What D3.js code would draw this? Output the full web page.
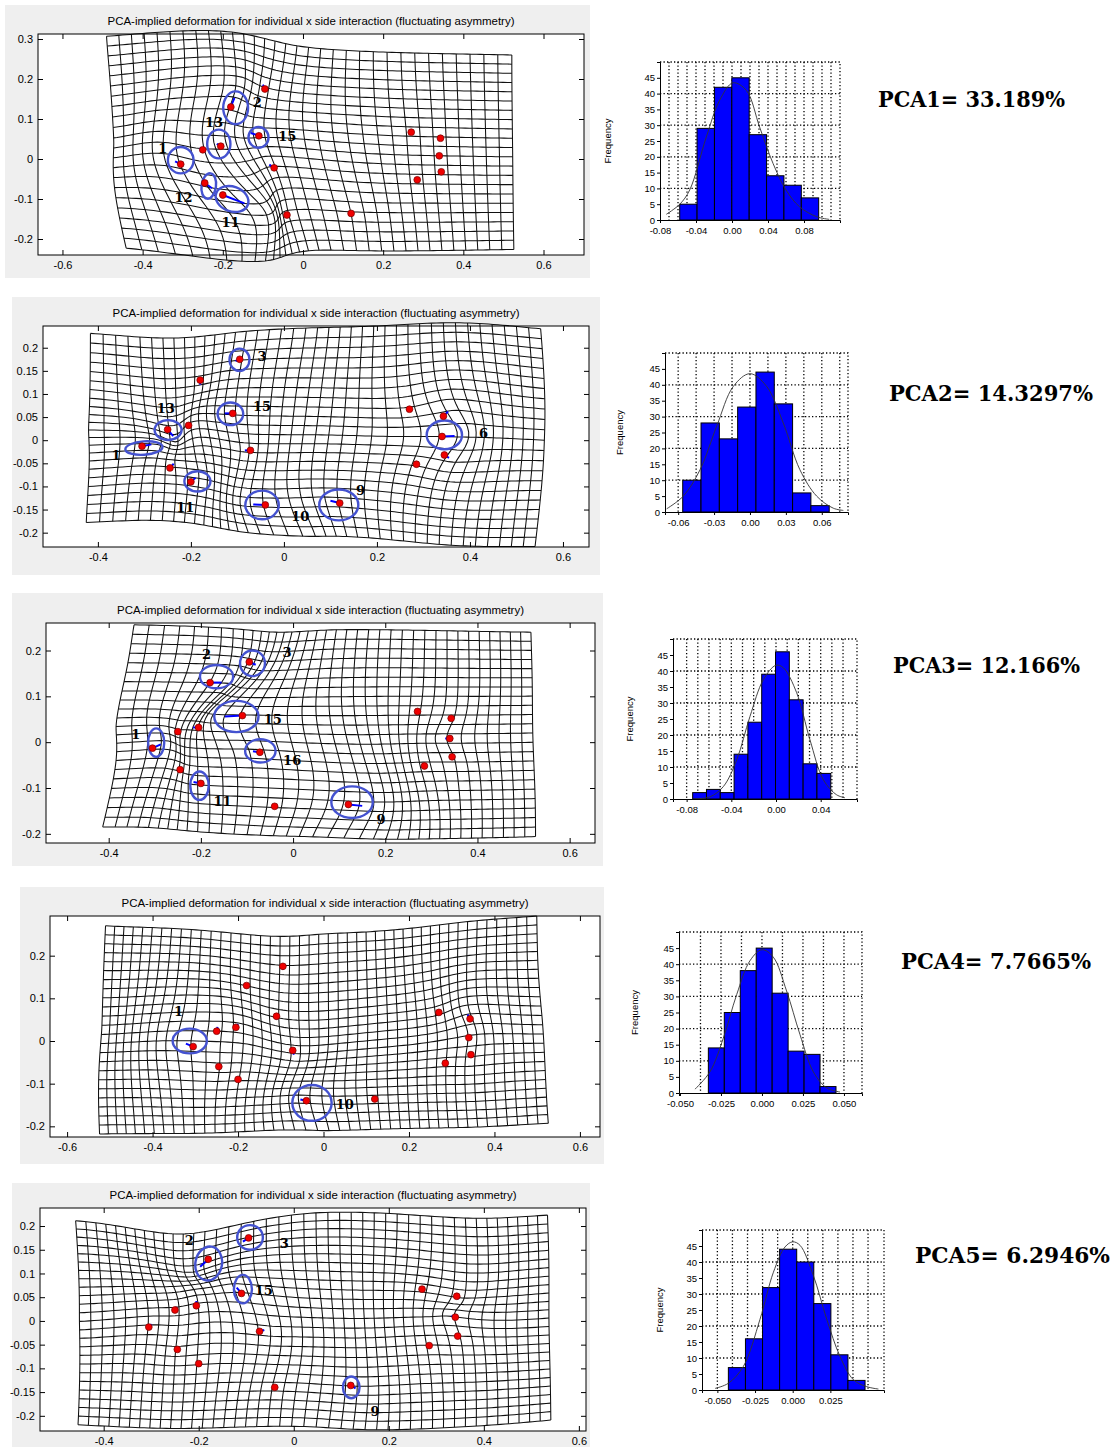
<!DOCTYPE html>
<html><head><meta charset="utf-8">
<script src="https://cdn.jsdelivr.net/npm/d3@7"></script>
<style>
body{margin:0;background:#fff;}
svg text{font-family:"Liberation Sans",Arial,sans-serif;fill:#000;}
</style></head>
<body><svg id="chart" width="1119" height="1447"></svg>
<script>
// mean landmark configuration: [id, x, y]
const landmarks = [
  [1,-0.305,-0.013],[2,-0.18,0.13],[3,-0.095,0.175],[4,0.27,0.067],
  [5,0.343,0.052],[6,0.34,0.008],[7,0.345,-0.032],[8,0.285,-0.052],
  [9,0.12,-0.136],[10,-0.04,-0.14],[11,-0.2,-0.09],[12,-0.245,-0.06],
  [13,-0.25,0.023],[14,-0.205,0.032],[15,-0.11,0.058],[16,-0.072,-0.022]
];

// deformation panels
const gridXDomains = [[-0.661,0.701],[-0.518,0.656],[-0.536,0.655],[-0.64,0.647],[-0.534,0.615]];
const gridYDomains = [[-0.24,0.3125],[-0.231,0.247],[-0.22,0.26],[-0.225,0.293],[-0.232,0.238]];
const gridXTicks = [
  [-0.6,-0.4,-0.2,0,0.2,0.4,0.6],[-0.4,-0.2,0,0.2,0.4,0.6],[-0.4,-0.2,0,0.2,0.4,0.6],
  [-0.6,-0.4,-0.2,0,0.2,0.4,0.6],[-0.4,-0.2,0,0.2,0.4,0.6]
];
const gridYTicks = [
  [-0.2,-0.1,0,0.1,0.2,0.3],
  [-0.2,-0.15,-0.1,-0.05,0,0.05,0.1,0.15,0.2],
  [-0.2,-0.1,0,0.1,0.2],
  [-0.2,-0.1,0,0.1,0.2],
  [-0.2,-0.15,-0.1,-0.05,0,0.05,0.1,0.15,0.2]
];
// warped grid outline: TL, TC, TR, MR, BR, BC, BL, ML
const gridOutlines = [
  [[-0.49,0.307],[-0.015,0.283],[0.521,0.26],[0.523,0.017],[0.526,-0.226],[0.04,-0.228],[-0.441,-0.223],[-0.472,0.04]],
  [[-0.416,0.231],[0.06,0.243],[0.552,0.241],[0.56,0.0],[0.54,-0.23],[0.055,-0.208],[-0.425,-0.178],[-0.42,0.022]],
  [[-0.345,0.256],[0.083,0.245],[0.516,0.24],[0.52,0.02],[0.526,-0.206],[0.058,-0.207],[-0.413,-0.185],[-0.384,0.034]],
  [[-0.51,0.27],[0,0.251],[0.499,0.293],[0.512,0.049],[0.526,-0.193],[0,-0.21],[-0.524,-0.218],[-0.519,0.026]],
  [[-0.459,0.211],[0.034,0.227],[0.534,0.223],[0.537,0.006],[0.541,-0.209],[0.034,-0.223],[-0.454,-0.219],[-0.451,-0.001]]
];
const gridCounts = [[32,21],[39,22],[37,22],[45,23],[43,24]];
// landmark displacement vectors: [id, dx, dy]
const landmarkShifts = [
  [[3,-0.005,0.011],[2,0.009,0.023],[15,-0.02,0.007],[14,-0.01,0.006],[13,-0.008,0.004],[1,-0.014,0.007],[16,-0.012,0.008],[12,0.018,-0.013],[11,0.054,-0.021]],
  [[3,-0.009,-0.004],[15,-0.017,0],[13,0.012,-0.014],[1,0.02,0.004],[11,0.01,0.009],[10,-0.026,0.001],[9,-0.02,0.005],[6,0.027,0.001],[5,0.01,0.01],[7,0.01,-0.006],[16,-0.012,0],[12,0.008,0.009],[2,0,-0.01]],
  [[3,0.014,-0.006],[2,0.025,0],[15,-0.038,-0.002],[1,0.018,0.008],[16,-0.015,0.002],[11,-0.016,0.003],[9,0.03,-0.003],[6,-0.01,0],[14,-0.012,0],[12,0,0.006]],
  [[1,-0.017,0.007],[10,-0.014,0.003],[3,0,-0.008],[15,0,-0.008],[16,0.003,-0.01],[13,0.002,0.01],[14,0.005,0.008],[5,-0.006,0.01],[6,0.004,0.006]],
  [[3,-0.012,-0.008],[2,-0.017,-0.016],[15,-0.01,0.012],[9,0.01,-0.006],[1,0.006,0.006],[13,0.004,0.006],[14,0,0.01],[16,0.01,0.003],[6,-0.008,0.003],[5,0.004,-0.006]]
];
// highlighted landmarks: [cx, cy, rx, ry, angle]
const ellipses = [
  [[-0.168,0.128,0.031,0.041,0],[-0.21,0.0375,0.029,0.036,0],[-0.111,0.054,0.025,0.026,0],[-0.305,-0.003,0.032,0.033,0],[-0.235,-0.0675,0.018,0.032,8],[-0.177,-0.1,0.042,0.031,20]],
  [[-0.0955,0.174,0.0215,0.024,0],[-0.115,0.057,0.0275,0.0245,0],[-0.249,0.022,0.029,0.0215,0],[-0.301,-0.017,0.04,0.0145,-4],[-0.186,-0.089,0.028,0.022,0],[-0.047,-0.14,0.036,0.031,0],[0.118,-0.14,0.042,0.0335,0],[0.345,0.0115,0.038,0.031,0]],
  [[-0.088,0.172,0.027,0.028,0],[-0.166,0.143,0.036,0.0255,0],[-0.123,0.056,0.048,0.034,0],[-0.297,-0.001,0.0175,0.031,0],[-0.071,-0.019,0.033,0.0255,0],[-0.203,-0.095,0.02,0.031,0],[0.128,-0.131,0.045,0.0345,0]],
  [[-0.313,0,0.04,0.029,0],[-0.027,-0.145,0.046,0.042,0]],
  [[-0.092,0.176,0.027,0.026,0],[-0.179,0.121,0.028,0.036,10],[-0.107,0.067,0.019,0.03,0],[0.121,-0.14,0.0175,0.023,0]]
];
const numberLabels = [
  [["1",-0.35,0.027],["2",-0.114,0.141],["13",-0.222,0.092],["15",-0.039,0.057],["12",-0.298,-0.096],["11",-0.181,-0.159]],
  [["3",-0.047,0.181],["15",-0.047,0.074],["13",-0.254,0.068],["1",-0.361,-0.032],["11",-0.212,-0.145],["10",0.035,-0.165],["9",0.165,-0.109],["6",0.429,0.015]],
  [["2",-0.188,0.191],["3",-0.013,0.196],["15",-0.044,0.049],["1",-0.341,0.0175],["16",-0.002,-0.04],["11",-0.153,-0.129],["9",0.191,-0.168]],
  [["1",-0.339,0.069],["10",0.05,-0.148]],
  [["2",-0.22,0.169],["3",-0.02,0.164],["15",-0.063,0.065],["9",0.171,-0.191]]
];
const panelTitle = "PCA-implied deformation for individual x side interaction (fluctuating asymmetry)";

// histograms of PC scores
const histXDomains = [[-0.08,0.12],[-0.071,0.0819],[-0.0922,0.0725],[-0.0506,0.061],[-0.0602,0.0606]];
const histXTicks = [
  [-0.08,-0.04,0,0.04,0.08],[-0.06,-0.03,0,0.03,0.06],[-0.08,-0.04,0,0.04],
  [-0.05,-0.025,0,0.025,0.05],[-0.05,-0.025,0,0.025]
];
const histTickDigits = [2,2,2,3,3];
const histGridSteps = [0.01,0.015,0.01,0.0125,0.01];
const histYTicks = [0,5,10,15,20,25,30,35,40,45];
const histBinStarts = [-0.0581,-0.0562,-0.0746,-0.0327,-0.0427];
const histBinWidths = [0.0193,0.0153,0.01236,0.00973,0.01134];
const histCounts = [
  [5,29,42,45,27,14,11,7],
  [10,28,23,33,44,34,6,2],
  [2,3,2,14,24,39,46,31,11,8],
  [14,25,38,45,31,13,12,2],
  [7,16,32,44,40,27,11,3]
];
const histCurves = [
  [[-0.073,1.8],[-0.058,5],[-0.047,9.5],[-0.0285,26.3],[-0.0137,37.9],[0.001,43.4],[0.016,41],[0.0307,29.4],[0.0456,17.9],[0.06,9.5],[0.075,4.2],[0.094,1.05],[0.108,0.2]],
  [[-0.0696,1],[-0.0557,5],[-0.0417,13.3],[-0.0278,27],[-0.0139,39.5],[0,43.5],[0.0139,39.5],[0.0278,28],[0.0417,13.3],[0.0557,5],[0.0696,1.2],[0.078,0.5]],
  [[-0.074,0],[-0.059,0.7],[-0.0471,3.9],[-0.0352,12.2],[-0.0233,25.8],[-0.0113,37.3],[0,41.8],[0.0066,41],[0.0185,33.2],[0.0304,18.5],[0.0424,6],[0.0543,1.3],[0.0617,0.4]],
  [[-0.0409,1.15],[-0.0317,6.6],[-0.0236,17],[-0.0154,30.6],[-0.0073,41.1],[0,44.5],[0.0069,42.2],[0.015,31.7],[0.0232,18.1],[0.0313,6.6],[0.0394,1.6],[0.0476,0.3]],
  [[-0.0515,0.5],[-0.0427,2.1],[-0.0327,7.4],[-0.0217,22.1],[-0.0128,36.8],[-0.0051,44.7],[0,46.3],[0.0049,45.2],[0.0137,35.8],[0.0226,22.1],[0.0314,10.5],[0.0403,3.2],[0.0491,1.05],[0.0569,0.3]]
];
const pcaLabels = ["PCA1= 33.189%","PCA2= 14.3297%","PCA3= 12.166%","PCA4= 7.7665%","PCA5= 6.2946%"];

// layout (pixels)
const gridFrames = [[5,5,590,278],[12,297,600,575],[12,593,603,866],[20,887,604,1164],[12,1183,590,1447]];
const gridBoxes = [[38,34,584,255],[43,326,589,547],[46,623,595,843],[50,916,600,1137],[40,1208,586,1431]];
const histBoxes = [[660,62,840,220],[665,353,848,512],[673,639,857,799],[679,932,862,1093],[702,1230,884,1390]];
const histLabelGap = [52,45,43,44,42];
const pcaPos = [[878,107],[889,401],[893,673],[901,969],[915,1263]];
const pcaWidths = [187,204,187,190,195];

const svg = d3.select("#chart");
const fmtGrid = v => String(+v.toFixed(2));

// 8-node quad mapping of the grid outline
const nodeXi = [-1,0,1,1,1,0,-1,-1], nodeEta = [1,1,1,0,-1,-1,-1,0];
function shapeW(k, xi, eta) {
  const a = nodeXi[k], b = nodeEta[k];
  if (a !== 0 && b !== 0) return 0.25*(1+xi*a)*(1+eta*b)*(xi*a+eta*b-1);
  if (a === 0) return 0.5*(1-xi*xi)*(1+eta*b);
  return 0.5*(1+xi*a)*(1-eta*eta);
}
function quadMap(outline, xi, eta) {
  let px = 0, py = 0;
  outline.forEach((pt, k) => { const w = shapeW(k, xi, eta); px += w*pt[0]; py += w*pt[1]; });
  return [px, py];
}

// thin plate spline through the landmark shifts
function solve(A, b) {
  const n = b.length, M = A.map((r, i) => [...r, b[i]]);
  for (let c = 0; c < n; c++) {
    let piv = c;
    for (let r = c+1; r < n; r++) if (Math.abs(M[r][c]) > Math.abs(M[piv][c])) piv = r;
    [M[c], M[piv]] = [M[piv], M[c]];
    for (let r = c+1; r < n; r++) {
      const f = M[r][c] / M[c][c];
      for (let k = c; k <= n; k++) M[r][k] -= f*M[c][k];
    }
  }
  const x = new Array(n).fill(0);
  for (let r = n-1; r >= 0; r--) {
    let s = M[r][n];
    for (let k = r+1; k < n; k++) s -= M[r][k]*x[k];
    x[r] = s / M[r][r];
  }
  return x;
}
const U = (dx, dy) => { const r2 = dx*dx + dy*dy; return r2 > 0 ? r2*Math.log(r2) : 0; };
function fitTps(ctrl) {
  const n = ctrl.length, m = n + 3;
  const A = Array.from({length: m}, () => new Array(m).fill(0));
  for (let i = 0; i < n; i++) {
    for (let j = 0; j < n; j++) A[i][j] = U(ctrl[i][0]-ctrl[j][0], ctrl[i][1]-ctrl[j][1]);
    A[i][n] = 1; A[i][n+1] = ctrl[i][0]; A[i][n+2] = ctrl[i][1];
    A[n][i] = 1; A[n+1][i] = ctrl[i][0]; A[n+2][i] = ctrl[i][1];
  }
  const wx = solve(A, [...ctrl.map(c => c[2]), 0, 0, 0]);
  const wy = solve(A, [...ctrl.map(c => c[3]), 0, 0, 0]);
  return (px, py) => {
    let dx = wx[n] + wx[n+1]*px + wx[n+2]*py, dy = wy[n] + wy[n+1]*px + wy[n+2]*py;
    for (let i = 0; i < n; i++) {
      const u = U(px-ctrl[i][0], py-ctrl[i][1]);
      dx += wx[i]*u; dy += wy[i]*u;
    }
    return [px+dx, py+dy];
  };
}

const warpGain = 1.7;

gridOutlines.forEach((outline, p) => {
  const [fx0, fy0, fx1, fy1] = gridFrames[p];
  const [bx0, by0, bx1, by1] = gridBoxes[p];
  const g = svg.append("g");
  g.append("rect").attr("x", fx0).attr("y", fy0).attr("width", fx1-fx0).attr("height", fy1-fy0).attr("fill", "#efefef");
  g.append("rect").attr("x", bx0).attr("y", by0).attr("width", bx1-bx0).attr("height", by1-by0).attr("fill", "#fff");

  const x = d3.scaleLinear().domain(gridXDomains[p]).range([bx0, bx1]);
  const y = d3.scaleLinear().domain(gridYDomains[p]).range([by1, by0]);

  g.append("text").attr("x", (bx0+bx1)/2).attr("y", by0-9).attr("text-anchor", "middle")
    .attr("font-size", 11).attr("textLength", 407).attr("lengthAdjust", "spacingAndGlyphs")
    .text(panelTitle);

  // warp: shifts at landmarks, outline kept fixed
  const shiftMap = new Map(landmarkShifts[p].map(d => [d[0], d]));
  const ctrl = landmarks.map(([id, lx, ly]) => {
    const s = shiftMap.get(id);
    return [lx, ly, s ? s[1]*warpGain : 0, s ? s[2]*warpGain : 0];
  });
  outline.forEach(pt => ctrl.push([pt[0], pt[1], 0, 0]));
  const warp = fitTps(ctrl);

  const [nx, ny] = gridCounts[p];
  const line = d3.line().x(d => x(d[0])).y(d => y(d[1]));
  const lines = [];
  for (let i = 0; i <= nx; i++) {
    const xi = -1 + 2*i/nx, pts = [];
    for (let s = 0; s <= 60; s++) { const q = quadMap(outline, xi, 1 - 2*s/60); pts.push(warp(q[0], q[1])); }
    lines.push(pts);
  }
  for (let j = 0; j <= ny; j++) {
    const eta = 1 - 2*j/ny, pts = [];
    for (let s = 0; s <= 100; s++) { const q = quadMap(outline, -1 + 2*s/100, eta); pts.push(warp(q[0], q[1])); }
    lines.push(pts);
  }
  g.append("g").selectAll("path").data(lines).join("path")
    .attr("d", line).attr("fill", "none").attr("stroke", "#111").attr("stroke-width", 1.05);

  // axes, MATLAB style inward ticks on all sides
  const axB = g.append("g").attr("transform", `translate(0,${by1})`)
    .call(d3.axisBottom(x).tickValues(gridXTicks[p]).tickSize(-5).tickPadding(6).tickFormat(fmtGrid));
  const axL = g.append("g").attr("transform", `translate(${bx0},0)`)
    .call(d3.axisLeft(y).tickValues(gridYTicks[p]).tickSize(-5).tickPadding(5).tickFormat(fmtGrid));
  const axT = g.append("g").attr("transform", `translate(0,${by0})`)
    .call(d3.axisTop(x).tickValues(gridXTicks[p]).tickSize(-5).tickFormat(""));
  const axR = g.append("g").attr("transform", `translate(${bx1},0)`)
    .call(d3.axisRight(y).tickValues(gridYTicks[p]).tickSize(-5).tickFormat(""));
  [axB, axL, axT, axR].forEach(a => {
    a.select(".domain").remove();
    a.selectAll("text").attr("font-size", 11).attr("font-family", "Liberation Sans, Arial, sans-serif");
  });
  g.append("rect").attr("x", bx0).attr("y", by0).attr("width", bx1-bx0).attr("height", by1-by0)
    .attr("fill", "none").attr("stroke", "#000");

  // ellipses around highlighted landmarks
  const kx = Math.abs(x(1) - x(0)), ky = Math.abs(y(1) - y(0));
  g.append("g").selectAll("ellipse").data(ellipses[p]).join("ellipse")
    .attr("cx", d => x(d[0])).attr("cy", d => y(d[1]))
    .attr("rx", d => d[2]*kx).attr("ry", d => d[3]*ky)
    .attr("transform", d => `rotate(${d[4]},${x(d[0])},${y(d[1])})`)
    .attr("fill", "none").attr("stroke", "#4452d0").attr("stroke-width", 2.4);

  // displacement vectors and landmarks
  const lmById = new Map(landmarks.map(d => [d[0], d]));
  g.append("g").selectAll("line").data(landmarkShifts[p]).join("line")
    .attr("x1", d => x(lmById.get(d[0])[1])).attr("y1", d => y(lmById.get(d[0])[2]))
    .attr("x2", d => x(lmById.get(d[0])[1] + d[1])).attr("y2", d => y(lmById.get(d[0])[2] + d[2]))
    .attr("stroke", "#0000ff").attr("stroke-width", 2);
  g.append("g").selectAll("circle").data(landmarks).join("circle")
    .attr("cx", d => x(d[1])).attr("cy", d => y(d[2])).attr("r", 3.4)
    .attr("fill", "#f00000").attr("stroke", "#700").attr("stroke-width", 0.7);

  g.append("g").selectAll("text").data(numberLabels[p]).join("text")
    .attr("x", d => x(d[1])).attr("y", d => y(d[2])).attr("dy", "0.35em")
    .attr("text-anchor", "middle").style("font-family", "DejaVu Serif, serif")
    .attr("font-weight", "bold").attr("font-size", 13)
    .text(d => d[0]);
});

// histograms
histCounts.forEach((counts, h) => {
  const [x0, y0, x1, y1] = histBoxes[h];
  const g = svg.append("g");
  const x = d3.scaleLinear().domain(histXDomains[h]).range([x0, x1]);
  const y = d3.scaleLinear().domain([0, 50]).range([y1, y0]);
  const dots = "1.3,2.2";

  const step = histGridSteps[h];
  const vs = d3.range(Math.ceil(histXDomains[h][0]/step - 1e-6), Math.floor(histXDomains[h][1]/step + 1e-6) + 1)
    .map(k => k*step).filter(v => x(v) > x0 + 3 && x(v) < x1 - 3);
  g.append("g").selectAll("line").data(vs).join("line")
    .attr("x1", d => x(d)).attr("x2", d => x(d)).attr("y1", y0).attr("y2", y1)
    .attr("stroke", "#000").attr("stroke-width", 1.3).attr("stroke-dasharray", dots);
  g.append("g").selectAll("line").data([10, 20, 30, 40]).join("line")
    .attr("x1", x0).attr("x2", x1).attr("y1", d => y(d)).attr("y2", d => y(d))
    .attr("stroke", "#000").attr("stroke-width", 1.3).attr("stroke-dasharray", dots);
  g.append("path").attr("d", `M${x0},${y0}H${x1}V${y1}`).attr("fill", "none")
    .attr("stroke", "#000").attr("stroke-width", 1.3).attr("stroke-dasharray", dots);

  g.append("g").selectAll("rect").data(counts).join("rect")
    .attr("x", (d, i) => x(histBinStarts[h] + i*histBinWidths[h]))
    .attr("width", x(histBinWidths[h]) - x(0))
    .attr("y", d => y(d)).attr("height", d => y(0) - y(d))
    .attr("fill", "#0000ff").attr("stroke", "#000").attr("stroke-width", 1);

  g.append("path").datum(histCurves[h])
    .attr("d", d3.line().x(d => x(d[0])).y(d => y(d[1])).curve(d3.curveCatmullRom))
    .attr("fill", "none").attr("stroke", "#333").attr("stroke-width", 0.9);

  const axL = g.append("g").attr("transform", `translate(${x0},0)`)
    .call(d3.axisLeft(y).tickValues(histYTicks).tickSize(3).tickPadding(2));
  const axB = g.append("g").attr("transform", `translate(0,${y1})`)
    .call(d3.axisBottom(x).tickValues(histXTicks[h]).tickSize(3).tickPadding(4)
      .tickFormat(v => v.toFixed(histTickDigits[h])));
  [axL, axB].forEach(a => {
    a.select(".domain").attr("stroke", "#000");
    a.selectAll("text").attr("font-size", 9.5).attr("font-family", "Liberation Sans, Arial, sans-serif");
  });

  g.append("text").attr("transform", `translate(${x0 - histLabelGap[h]},${(y0+y1)/2}) rotate(-90)`)
    .attr("text-anchor", "middle").attr("dy", "0.35em").attr("font-size", 9.5).text("Frequency");

  g.append("text").attr("x", pcaPos[h][0]).attr("y", pcaPos[h][1])
    .style("font-family", "DejaVu Serif, serif").attr("font-weight", "bold").attr("font-size", 22)
    .attr("textLength", pcaWidths[h]).attr("lengthAdjust", "spacingAndGlyphs")
    .text(pcaLabels[h]);
});
</script>
</body></html>
